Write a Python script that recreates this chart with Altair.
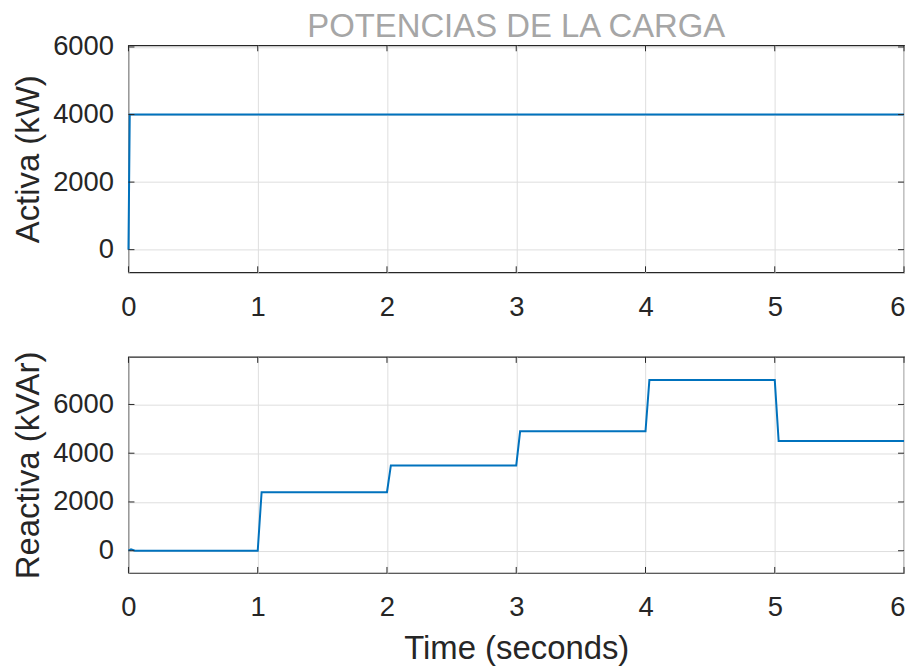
import altair as alt
import pandas as pd

# ---- data ----
t_activa = [0.0, 0.01, 6.0]
p_activa = [0, 4000, 4000]

t_reactiva = [0.0, 0.02, 0.05, 1.0, 1.03, 2.0, 2.03, 3.0, 3.03, 4.0, 4.03, 5.0, 5.03, 6.0]
q_reactiva = [0, 60, 0, 0, 2400, 2400, 3500, 3500, 4900, 4900, 7000, 7000, 4500, 4500]

x_ticks = [0, 1, 2, 3, 4, 5, 6]
y_ticks = [0, 2000, 4000, 6000]

x_domain = [0, 6]
y_domain_top = [-670, 6050]
y_domain_bottom = [-912, 7950]

FONT = "Liberation Sans"
BLUE = "#0072BD"
INK = "#262626"
GRID = "#dedede"
W = 779
H1 = 228
H2 = 217
TICK = 6
LABEL_SIZE = 27.5
TITLE_SIZE = 33

df_a = pd.DataFrame({"t": t_activa, "v": p_activa})
df_r = pd.DataFrame({"t": t_reactiva, "v": q_reactiva})
df_xt = pd.DataFrame({"t": x_ticks})
df_yt = pd.DataFrame({"v": y_ticks})

# keep the last x label inside the page so that no horizontal overflow occurs
last_x = x_ticks[-1]
x_label_align = {"condition": {"test": f"datum.value == {last_x}", "value": "right"},
                 "value": "center"}
x_label_offset = {"condition": {"test": f"datum.value == {last_x}", "value": 1},
                  "value": 0}


def panel(df, ydom, ytitle, height, xtitle, title=None):
    xs = alt.Scale(domain=x_domain, nice=False, zero=False)
    ys = alt.Scale(domain=ydom, nice=False, zero=False)
    xaxis = alt.Axis(values=x_ticks, format="d", grid=True, gridColor=GRID,
                     ticks=False, tickSize=0, domain=False, labelFlush=False,
                     labelAlign=x_label_align, labelOffset=x_label_offset,
                     labelFont=FONT, labelFontSize=LABEL_SIZE, labelColor=INK,
                     labelPadding=21, title=xtitle, titleFont=FONT,
                     titleFontSize=TITLE_SIZE, titleFontWeight="normal",
                     titleColor=INK, titlePadding=11)
    yaxis = alt.Axis(values=y_ticks, format="d", grid=True, gridColor=GRID,
                     ticks=False, tickSize=0, domain=False, labelFlush=False,
                     labelFont=FONT, labelFontSize=LABEL_SIZE, labelColor=INK,
                     labelPadding=15, title=ytitle, titleFont=FONT,
                     titleFontSize=TITLE_SIZE, titleFontWeight="normal",
                     titleColor=INK, titlePadding=7)
    X = alt.X("t:Q", scale=xs, axis=xaxis)
    Y = alt.Y("v:Q", scale=ys, axis=yaxis)
    line = alt.Chart(df).mark_line(color=BLUE, strokeWidth=2).encode(x=X, y=Y)
    xt_bot = alt.Chart(df_xt).mark_rule(color=INK, strokeWidth=1).encode(
        x=X, y=alt.value(height), y2=alt.value(height - TICK))
    xt_top = alt.Chart(df_xt).mark_rule(color=INK, strokeWidth=1).encode(
        x=X, y=alt.value(0), y2=alt.value(TICK))
    yt_left = alt.Chart(df_yt).mark_rule(color=INK, strokeWidth=1).encode(
        y=Y, x=alt.value(0), x2=alt.value(TICK))
    yt_right = alt.Chart(df_yt).mark_rule(color=INK, strokeWidth=1).encode(
        y=Y, x=alt.value(W), x2=alt.value(W - TICK))
    props = dict(width=W, height=height)
    if title:
        props["title"] = alt.TitleParams(title, font=FONT, fontSize=TITLE_SIZE,
                                         fontWeight="normal", color="#a6a6a6",
                                         anchor="middle", frame="group",
                                         offset=-11)
    return alt.layer(line, xt_bot, xt_top, yt_left, yt_right).properties(**props)


top = panel(df_a, y_domain_top, "Activa (kW)", H1, None,
            title="POTENCIAS DE LA CARGA")
bottom = panel(df_r, y_domain_bottom, "Reactiva (kVAr)", H2, "Time (seconds)")

chart = alt.vconcat(top, bottom, spacing=28).properties(
    padding={"left": 4, "top": 1, "right": 0, "bottom": 0},
    background="white",
).configure_view(stroke=INK, strokeWidth=1.2)

chart.save("out.html", embed_options={"renderer": "svg", "actions": False})
